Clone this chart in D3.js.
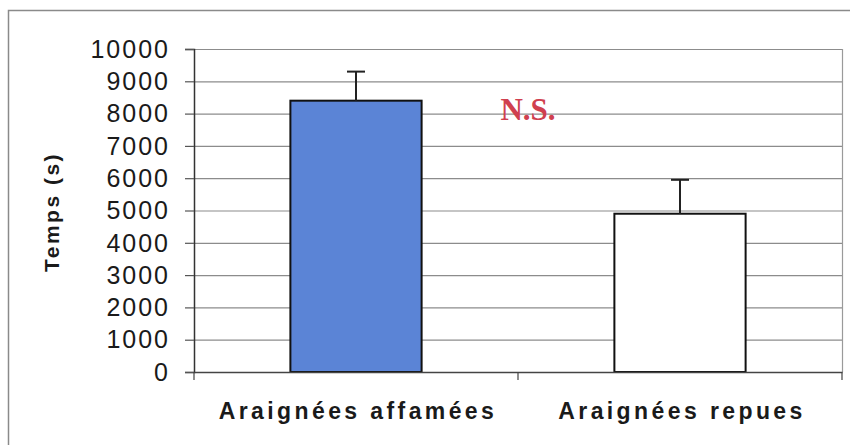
<!DOCTYPE html>
<html lang="fr">
<head>
<meta charset="utf-8">
<script src="https://d3js.org/d3.v7.min.js"></script>
<style>
body { margin: 0; background: #fff; }
svg text { font-family: "Liberation Sans", Arial, sans-serif; fill: #1a1a1a; }
</style>
</head>
<body>
<script>
// data
var categories = ["Araignées affamées", "Araignées repues"];
var means = [8400, 4900];
var errTops = [9300, 5950];
var yTicks = [0, 1000, 2000, 3000, 4000, 5000, 6000, 7000, 8000, 9000, 10000];
var barColors = ["#5b84d6", "#ffffff"];

var width = 850, height = 445;
var mLeft = 194, mRight = 842, mTop = 49, mBottom = 372;

var svg = d3.select("body").append("svg")
  .attr("width", width)
  .attr("height", height);

// outer frame
svg.append("rect")
  .attr("x", 8.5).attr("y", 10.5)
  .attr("width", 900).attr("height", 500)
  .attr("fill", "none")
  .attr("stroke", "#8a8a8a")
  .attr("stroke-width", 1.5);

var x = d3.scaleBand().domain(categories).range([mLeft, mRight]).padding(0);
var y = d3.scaleLinear().domain([0, 10000]).range([mBottom, mTop]);

// gridlines
svg.append("g")
  .selectAll("line")
  .data(yTicks.filter(function(d) { return d > 0; }))
  .enter().append("line")
  .attr("x1", mLeft).attr("x2", mRight)
  .attr("y1", function(d) { return y(d) + 0.5; })
  .attr("y2", function(d) { return y(d) + 0.5; })
  .attr("stroke", "#8c8c8c")
  .attr("stroke-width", 1.2);

// right border of the plot area
svg.append("line")
  .attr("x1", mRight + 0.5).attr("x2", mRight + 0.5)
  .attr("y1", mTop).attr("y2", mBottom)
  .attr("stroke", "#9a9a9a")
  .attr("stroke-width", 1.2);

// bars
var barW = x.bandwidth() * 0.405;
var bars = svg.append("g").selectAll("g")
  .data(categories)
  .enter().append("g");

bars.append("rect")
  .attr("x", function(d) { return x(d) + x.bandwidth() / 2 - barW / 2; })
  .attr("y", function(d, i) { return y(means[i]); })
  .attr("width", barW)
  .attr("height", function(d, i) { return y(0) - y(means[i]); })
  .attr("fill", function(d, i) { return barColors[i]; })
  .attr("stroke", "#111")
  .attr("stroke-width", 2);

// error bars (upper only)
bars.append("line")
  .attr("x1", function(d) { return x(d) + x.bandwidth() / 2; })
  .attr("x2", function(d) { return x(d) + x.bandwidth() / 2; })
  .attr("y1", function(d, i) { return y(means[i]); })
  .attr("y2", function(d, i) { return y(errTops[i]); })
  .attr("stroke", "#222")
  .attr("stroke-width", 2);

bars.append("line")
  .attr("x1", function(d) { return x(d) + x.bandwidth() / 2 - 9; })
  .attr("x2", function(d) { return x(d) + x.bandwidth() / 2 + 9; })
  .attr("y1", function(d, i) { return y(errTops[i]); })
  .attr("y2", function(d, i) { return y(errTops[i]); })
  .attr("stroke", "#222")
  .attr("stroke-width", 2);

// y axis
var yAxis = d3.axisLeft(y).tickValues(yTicks).tickSize(9).tickPadding(15)
  .tickFormat(d3.format("d"));
var gy = svg.append("g")
  .attr("transform", "translate(" + mLeft + ",0)")
  .call(yAxis);
gy.select(".domain").attr("stroke", "#333").attr("stroke-width", 1.5);
gy.selectAll(".tick line").attr("stroke", "#555").attr("stroke-width", 1.2);
gy.selectAll(".tick text")
  .attr("dy", "0.33em")
  .style("font-size", "25px")
  .style("letter-spacing", "2px")
  .style("fill", "#1a1a1a");

// x axis: ticks at band boundaries
var xAxis = d3.axisBottom(x).tickSize(0).tickFormat("");
var gx = svg.append("g")
  .attr("transform", "translate(0," + mBottom + ")")
  .call(xAxis);
gx.select(".domain").attr("stroke", "#444").attr("stroke-width", 1.5);
gx.selectAll(".tick").remove();
gx.selectAll("line.bound")
  .data([mLeft, x(categories[1]), mRight])
  .enter().append("line")
  .attr("class", "bound")
  .attr("x1", function(d) { return d; })
  .attr("x2", function(d) { return d; })
  .attr("y1", 0).attr("y2", 8)
  .attr("stroke", "#444")
  .attr("stroke-width", 1.2);

// category labels
svg.append("g").selectAll("text")
  .data(categories)
  .enter().append("text")
  .attr("x", function(d) { return x(d) + x.bandwidth() / 2 + 2; })
  .attr("y", 419)
  .attr("text-anchor", "middle")
  .style("font-size", "23px")
  .style("font-weight", "bold")
  .style("letter-spacing", "3.4px")
  .text(function(d) { return d; });

// y title
svg.append("text")
  .attr("transform", "translate(59,212) rotate(-90)")
  .attr("text-anchor", "middle")
  .style("font-size", "21px")
  .style("font-weight", "bold")
  .style("letter-spacing", "2.5px")
  .text("Temps (s)");

// significance note
svg.append("text")
  .attr("x", 528)
  .attr("y", 120)
  .attr("text-anchor", "middle")
  .style("font-family", "'Liberation Serif', 'Times New Roman', serif")
  .style("font-size", "31px")
  .style("font-weight", "bold")
  .style("fill", "#d0404f")
  .text("N.S.");
</script>
</body>
</html>
